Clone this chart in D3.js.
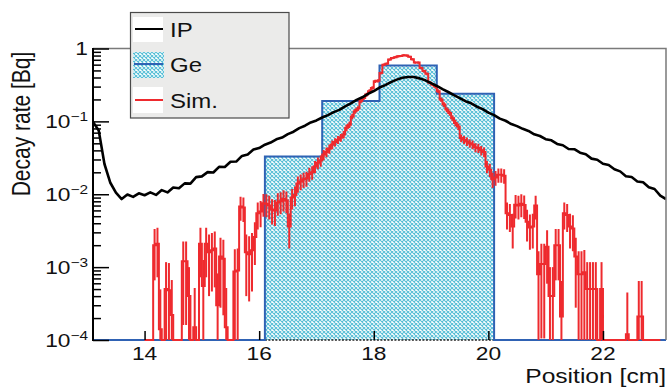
<!DOCTYPE html>
<html>
<head>
<meta charset="utf-8">
<script src="https://cdn.jsdelivr.net/npm/d3@7"></script>
<style>
  html, body { margin: 0; padding: 0; background: #fff; }
  svg { display: block; font-family: "Liberation Sans", Arial, Helvetica, sans-serif; }
</style>
</head>
<body>
<svg id="chart" width="667" height="388"></svg>
<script>
// ---- data ----------------------------------------------------------------
const xTicks = [14, 16, 18, 20, 22];
const yDecades = [1e-4, 1e-3, 1e-2, 1e-1, 1];
const yTickBase = ["10", "10", "10", "10", "1"];
const yTickExp = ["\u22124", "\u22123", "\u22122", "\u22121", ""];
const xTitle = "Position [cm]";
const yTitle = "Decay rate [Bq]";
const legendLabels = ["IP", "Ge", "Sim."];

// Ge detector: four 1 cm wide bins
const geEdges = [16.1, 17.1, 18.1, 19.1, 20.1];
const geRate = [0.033, 0.19, 0.585, 0.24];

// Imaging plate profile, 0.1 cm sampling from 13.1 cm
const ipStart = 13.1, ipStep = 0.1;
const ipRate = [
  0.098, 0.075, 0.026, 0.0145, 0.0105, 0.0086, 0.0099, 0.0092, 0.0103, 0.0097,
  0.0106, 0.0098, 0.0114, 0.0106, 0.0124, 0.0121, 0.0141, 0.0140, 0.0172, 0.0176,
  0.0201, 0.0199, 0.0238, 0.0236, 0.0279, 0.0281, 0.0336, 0.0352, 0.0410, 0.0430,
  0.0478, 0.0512, 0.0568, 0.0600, 0.0668, 0.0722, 0.0808, 0.0872, 0.0968, 0.1030,
  0.1130, 0.1220, 0.1340, 0.1440, 0.1610, 0.1770, 0.1970, 0.2140, 0.2390, 0.2610,
  0.2910, 0.3140, 0.3460, 0.3740, 0.3960, 0.4070, 0.4060, 0.3890, 0.3660, 0.3340,
  0.3060, 0.2770, 0.2530, 0.2290, 0.2090, 0.1890, 0.1770, 0.1590, 0.1470, 0.1320,
  0.1220, 0.1090, 0.1020, 0.0920, 0.0860, 0.0790, 0.0740, 0.0665, 0.0630, 0.0570,
  0.0550, 0.0490, 0.0470, 0.0418, 0.0415, 0.0372, 0.0355, 0.0308, 0.0298, 0.0262,
  0.0252, 0.0220, 0.0206, 0.0177, 0.0172, 0.0150, 0.0146, 0.0125, 0.0118, 0.0096,
  0.0086
];

// Simulation histogram, 0.05 cm bins from 14.0 cm
const simStart = 14.0, simStep = 0.05;
const simRate = [
  0, 0, 0, 0.0020, 0.0021, 0.00014, 0, 0.0005, 0.00048, 0.00022,
  0, 0, 0, 0.0012, 0.0012, 0.0004, 0, 0.00015, 0, 0.0021,
  0.00055, 0.0021, 0.0016, 0.0017, 0.0018, 0.0003, 0.0014, 0.0013, 0.00015, 0,
  0, 0.00087, 0.0009, 0.0068, 0.0066, 0.0016, 0.0015, 0.0017, 0.0026, 0.0055,
  0.0058, 0.0075, 0.0074, 0.0070, 0.0062, 0.0060, 0.0077, 0.0080, 0.0086, 0.0082,
  0.0036, 0.0090, 0.0098, 0.0140, 0.0150, 0.0160, 0.0165, 0.0190, 0.0200, 0.0240,
  0.0270, 0.0290, 0.0350, 0.0380, 0.0420, 0.0480, 0.0520, 0.0560, 0.0600, 0.0660,
  0.0820, 0.0900, 0.1170, 0.1380, 0.1500, 0.1900, 0.2100, 0.2330, 0.2600, 0.2880,
  0.3550, 0.3600, 0.4600, 0.6000, 0.6200, 0.7060, 0.7400, 0.7600, 0.7800, 0.7900,
  0.8100, 0.8000, 0.7700, 0.7100, 0.6400, 0.6400, 0.5400, 0.4900, 0.4500, 0.3400,
  0.3200, 0.3000, 0.2600, 0.2000, 0.1700, 0.1450, 0.1300, 0.1100, 0.0950, 0.0850,
  0.0590, 0.0560, 0.0530, 0.0500, 0.0480, 0.0440, 0.0430, 0.0400, 0.0380, 0.0240,
  0.0217, 0.0160, 0.0170, 0.0185, 0.0185, 0.0180, 0.0055, 0.0052, 0.0036, 0.0072,
  0.0070, 0.0074, 0.0071, 0.0042, 0.0035, 0.0036, 0.0070, 0.0008, 0.0011, 0.0011,
  0.0019, 0.0004, 0.0004, 0.0020, 0.0020, 0.00021, 0.0055, 0.0052, 0.0036, 0.0034,
  0.0014, 0.0008, 0.0008, 0.00085, 0.0005, 0.0005, 0.0005, 0.0005, 0, 0.0005,
  0, 0, 0, 0, 0, 0, 0, 0, 0.00012, 0,
  0, 0, 0.00021, 0.00021, 0, 0, 0, 0, 0, 0
];
// rate carried by one simulated count (sets the Poisson error bars)
const simCountWeight = 0.0009;

// ---- layout --------------------------------------------------------------
const L = 93, R = 666, T = 48.5, B = 340;
const textStretch = 1.23;   // wide rendering of all labels
const xMin = 13.1, xMax = 23.1, yMin = 1e-4, yMax = 1;

const svg = d3.select("#chart");
const x = d3.scaleLinear().domain([xMin, xMax]).range([L, R]);
const y = d3.scaleLog().domain([yMin, yMax]).range([B, T]);
const yc = v => y(Math.max(v, yMin));

const defs = svg.append("defs");
const hatch = defs.append("pattern")
  .attr("id", "hatch").attr("patternUnits", "userSpaceOnUse")
  .attr("width", 4).attr("height", 4);
hatch.append("rect").attr("width", 4).attr("height", 4).attr("fill", "#ffffff");
hatch.append("path").attr("d", "M0,0L4,4M4,0L0,4")
  .attr("stroke", "#58bfd6").attr("stroke-width", 1.1).attr("fill", "none");
defs.append("clipPath").attr("id", "plotClip")
  .append("rect").attr("x", L).attr("y", T - 2).attr("width", R - L).attr("height", B - T + 4);

const plot = svg.append("g").attr("clip-path", "url(#plotClip)");

// Ge histogram: hatched bins
plot.selectAll("rect.ge").data(geRate).join("rect")
  .attr("class", "ge")
  .attr("x", (d, i) => x(geEdges[i]))
  .attr("width", (d, i) => x(geEdges[i + 1]) - x(geEdges[i]))
  .attr("y", d => y(d))
  .attr("height", d => B - y(d))
  .attr("fill", "url(#hatch)");

// axis line showing through the hatch under the Ge bins
plot.append("line")
  .attr("x1", x(geEdges[0])).attr("x2", x(geEdges[geEdges.length - 1]))
  .attr("y1", B).attr("y2", B)
  .attr("stroke", "#222").attr("stroke-width", 1.5).attr("stroke-dasharray", "2,1.5");

// Ge outline (zero outside the detector range sits on the bottom edge)
const gePath = d3.path();
gePath.moveTo(x(xMin), B);
gePath.lineTo(x(geEdges[0]), B);
geRate.forEach((v, i) => {
  gePath.lineTo(x(geEdges[i]), y(v));
  gePath.lineTo(x(geEdges[i + 1]), y(v));
});
gePath.lineTo(x(geEdges[geEdges.length - 1]), B);
gePath.lineTo(x(xMax), B);
plot.append("path").attr("d", gePath.toString())
  .attr("fill", "none").attr("stroke", "#2f62b4").attr("stroke-width", 2);

// Simulation: step histogram with error bars
const simRed = "#ee2a2e";
const simPath = d3.path();
simRate.forEach((v, i) => {
  const x0 = x(simStart + i * simStep), x1 = x(simStart + (i + 1) * simStep);
  if (i === 0) simPath.moveTo(x0, yc(v)); else simPath.lineTo(x0, yc(v));
  simPath.lineTo(x1, yc(v));
});
plot.append("path").attr("d", simPath.toString())
  .attr("fill", "none").attr("stroke", simRed).attr("stroke-width", 2)
  .attr("stroke-linejoin", "miter");
plot.selectAll("line.simErr").data(simRate.map((v, i) => ({v, i})).filter(d => d.v > 0))
  .join("line").attr("class", "simErr")
  .attr("x1", d => x(simStart + (d.i + 0.5) * simStep))
  .attr("x2", d => x(simStart + (d.i + 0.5) * simStep))
  .attr("y1", d => yc(d.v - Math.sqrt(d.v * simCountWeight)))
  .attr("y2", d => yc(d.v + Math.sqrt(d.v * simCountWeight)))
  .attr("stroke", simRed).attr("stroke-width", 2);

// Imaging plate profile
const ipLine = d3.line().x((d, i) => x(ipStart + i * ipStep)).y(d => y(d));
plot.append("path").datum(ipRate).attr("d", ipLine)
  .attr("fill", "none").attr("stroke", "#000").attr("stroke-width", 2.6)
  .attr("stroke-linejoin", "round");

// ---- frame and axes -------------------------------------------------------
svg.append("path").attr("d", `M${L},${T}H${R}V${B}`)
  .attr("fill", "none").attr("stroke", "#7a7a7a").attr("stroke-width", 1.5);

const yMinor = [];
yDecades.slice(0, -1).forEach(d => { for (let k = 2; k <= 9; k++) yMinor.push(d * k); });

const yAxisMinor = d3.axisLeft(y).tickValues(yMinor).tickSize(-8).tickFormat("");
const yAxisMajor = d3.axisLeft(y).tickValues(yDecades).tickSize(-16).tickFormat("");
[yAxisMinor, yAxisMajor].forEach(ax => {
  const g = svg.append("g").attr("transform", `translate(${L},0)`).call(ax);
  g.select(".domain").remove();
  g.selectAll(".tick line").attr("stroke", "#000").attr("stroke-width", 1.5);
});
const xAxis = d3.axisBottom(x).tickValues(xTicks).tickSize(-9).tickFormat("");
const gx = svg.append("g").attr("transform", `translate(0,${B})`).call(xAxis);
gx.select(".domain").remove();
gx.selectAll(".tick line").attr("stroke", "#000").attr("stroke-width", 1.5);

svg.append("line").attr("x1", L).attr("x2", L).attr("y1", T - 0.5).attr("y2", B + 1)
  .attr("stroke", "#000").attr("stroke-width", 2);

// wide text helper
function wideText(px, py, anchor, size, sx, extra) {
  const g = svg.append("g").attr("transform", `translate(${px},${py}) scale(${sx},1)${extra || ""}`);
  return g.append("text").attr("text-anchor", anchor).attr("font-size", size).attr("fill", "#111");
}

xTicks.forEach(v => {
  wideText(x(v), 360, "middle", 18.5, textStretch).text(v);
});
yDecades.forEach((v, i) => {
  const t = wideText(88, y(v) + 6.8, "end", 18.5, textStretch);
  t.append("tspan").text(yTickBase[i]);
  if (yTickExp[i]) t.append("tspan").attr("font-size", 12.5).attr("dy", -7).text(yTickExp[i]);
});
wideText(666, 383, "end", 20, textStretch).text(xTitle);
wideText(30, 124, "middle", 21, textStretch, " rotate(-90)").text(yTitle);

// ---- legend ---------------------------------------------------------------
const lg = svg.append("g");
lg.append("rect").attr("x", 130.5).attr("y", 12.5).attr("width", 158.5).attr("height", 105.5)
  .attr("fill", "#ebebea").attr("stroke", "#4a4a4a").attr("stroke-width", 1.2);
const rowY = [29, 64, 100];
lg.append("rect").attr("x", 133).attr("y", 17).attr("width", 30).attr("height", 25).attr("fill", "#fff");
lg.append("line").attr("x1", 135).attr("x2", 163).attr("y1", rowY[0]).attr("y2", rowY[0])
  .attr("stroke", "#000").attr("stroke-width", 2);
lg.append("rect").attr("x", 133).attr("y", 52).attr("width", 31).attr("height", 26).attr("fill", "url(#hatch)");
lg.append("line").attr("x1", 134).attr("x2", 163).attr("y1", rowY[1]).attr("y2", rowY[1])
  .attr("stroke", "#2f62b4").attr("stroke-width", 2);
lg.append("rect").attr("x", 133).attr("y", 87).attr("width", 30).attr("height", 26).attr("fill", "#fff");
lg.append("line").attr("x1", 135).attr("x2", 163).attr("y1", rowY[2]).attr("y2", rowY[2])
  .attr("stroke", simRed).attr("stroke-width", 2);
legendLabels.forEach((s, i) => {
  wideText(170, rowY[i] + 7.5, "start", 20, 1.2).text(s);
});
</script>
</body>
</html>
